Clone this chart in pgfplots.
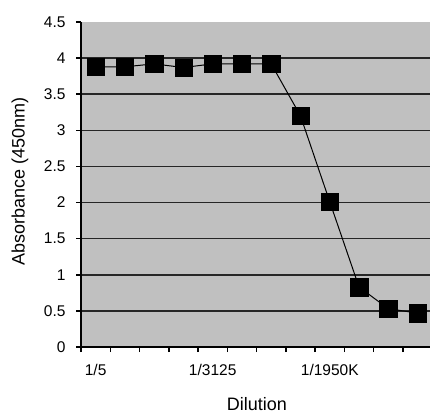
\documentclass[border=0pt]{standalone}
\usepackage{fontspec}
\setmainfont{Liberation Sans}
\usepackage{pgfplots}
\pgfplotsset{compat=1.18}
\definecolor{plotgray}{HTML}{C0C0C0}
\begin{document}
\begin{tikzpicture}[x=1pt,y=1pt]
\begin{axis}[
  at={(81pt,69pt)}, anchor=south west,
  scale only axis, width=351.2pt, height=325pt,
  xmin=0.5, xmax=12.5, ymin=0, ymax=4.5,
  axis x line*=bottom, axis y line*=left,
  axis line style={line width=2.2pt, -},
  axis background/.style={fill=plotgray},
  xtick={0.5,1.5,...,12.5}, xticklabels={},
  extra x ticks={1,5,9}, extra x tick labels={1/5,1/3125,1/1950K},
  extra x tick style={major tick length=0pt, grid=none},
  ytick={0,0.5,...,4},
  extra y ticks={4.5}, extra y tick style={grid=none},
  ymajorgrids, major grid style={black!85, line width=1.6pt},
  tick align=outside, major tick length=5pt,
  tick style={black, line width=1.5pt},
  /pgf/number format/assume math mode=true,
  tick label style={font=\fontsize{15.5}{15.5}\selectfont},
  x tick label style={yshift=-14pt},
  y tick label style={xshift=-7pt},
  ylabel={Absorbance (450nm)}, xlabel={Dilution},
  label style={font=\fontsize{18}{18}\selectfont},
  ylabel style={at={(axis description cs:-0.174,0.51)}, anchor=center},
  xlabel style={at={(axis description cs:0.501,-0.175)}, anchor=center},
]
\addplot[black, line width=1pt, mark=square*, mark size=8.7pt,
  mark options={fill=black, draw=black, line width=0.4pt}]
  coordinates {
  (1,3.88) (2,3.88) (3,3.92) (4,3.87) (5,3.92) (6,3.92) (7,3.92)
  (8,3.20) (9,2.01) (10,0.83) (11,0.53) (12,0.47)
  };
\end{axis}
\pgfresetboundingbox
\path[use as bounding box] (0,0) rectangle (430,416);
\end{tikzpicture}
\end{document}
